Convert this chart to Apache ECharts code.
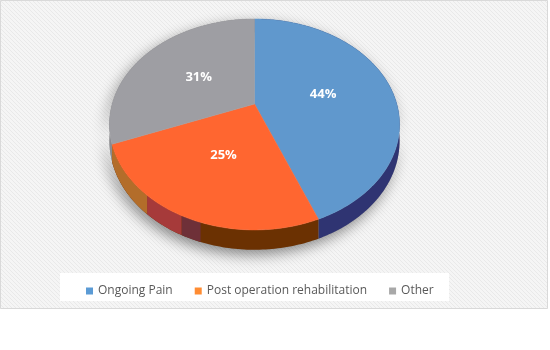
<!DOCTYPE html>
<html>
<head>
<meta charset="utf-8">
<script src="https://cdn.jsdelivr.net/npm/echarts@6/dist/echarts.min.js"></script>
<style>
  html, body { margin: 0; padding: 0; background: #ffffff; }
  #chart { width: 550px; height: 350px; }
</style>
</head>
<body>
<div id="chart"></div>
<script>
// ---- data ----
const categories = ['Ongoing Pain', 'Post operation rehabilitation', 'Other'];
const shares = [44, 25, 31];

// ---- styles ----
const topColors = ['#6098CD', '#FF6630', '#9E9EA3'];
const sideColors = ['#2F3472', '#6B3102', '#8a8a8e'];
const legendColors = ['#5B9BD5', '#FF8C33', '#A8A8A8'];
// extra tint bands on the orange wall, per slice: [fromDeg, toDeg, color]
const sideTints = { 1: [[198, 205, '#6E3038'], [205, 220, '#A63A3A'], [220, 250, '#B36D2A']] };

// ---- 3D pie projection (angles clockwise from 12 o'clock) ----
const CX = 254.5, CY = 104, RX = 142.3, RY = 101.5, K = 0.194, DEPTH = 16;
function proj(deg, r, dz) {
  const t = deg * Math.PI / 180;
  const u = r * Math.sin(t), v = r * Math.cos(t);
  const s = 1 / (1 + K * v);
  return [CX + RX * u * s, CY - RY * v * s + DEPTH * s * dz];
}
function arcPts(a0, a1, dz) {
  const n = Math.max(2, Math.ceil(Math.abs(a1 - a0)));
  const pts = [];
  for (let k = 0; k <= n; k++) pts.push(proj(a0 + (a1 - a0) * k / n, 1, dz));
  return pts;
}
function wall(a0, a1) {
  return arcPts(a0, a1, 0).concat(arcPts(a1, a0, 1));
}

const total = shares.reduce((a, b) => a + b, 0);

function renderSlice(i) {
  return function (params, api) {
    const value = api.value(0);
    let before = 0;
    for (let j = 0; j < i; j++) before += shares[j];
    const a0 = 360 * before / total;
    const a1 = a0 + 360 * value / total;
    const mid = (a0 + a1) / 2;
    const frontness = -Math.cos(mid * Math.PI / 180);
    const children = [];

    if (i === 0) {
      // soft drop shadow under the whole pie
      children.push({
        type: 'polygon',
        shape: { points: wall(0, 360) },
        style: { fill: '#9a9a9a', shadowBlur: 14, shadowOffsetX: -3, shadowOffsetY: 5, shadowColor: 'rgba(0,0,0,0.45)' },
        z2: -10, silent: true
      });
    }

    children.push({
      type: 'polygon',
      shape: { points: wall(a0, a1) },
      style: { fill: sideColors[i] },
      z2: 5 + frontness, silent: true
    });
    (sideTints[i] || []).forEach(function (b) {
      const s0 = Math.max(a0, b[0]), s1 = Math.min(a1, b[1]);
      if (s1 > s0) {
        children.push({
          type: 'polygon',
          shape: { points: wall(s0, s1) },
          style: { fill: b[2] },
          z2: 7 + frontness, silent: true
        });
      }
    });

    children.push({
      type: 'polygon',
      shape: { points: [proj(0, 0, 0)].concat(arcPts(a0, a1, 0)) },
      style: { fill: topColors[i], stroke: topColors[i], lineWidth: 0.5 },
      z2: 20, silent: true
    });

    const lp = proj(mid, 0.5, 0);
    children.push({
      type: 'text',
      x: lp[0], y: lp[1],
      style: {
        text: Math.round(100 * value / total) + '%',
        align: 'center', verticalAlign: 'middle',
        fill: '#ffffff',
        font: 'bold 13px "Open Sans", "Liberation Sans", sans-serif'
      },
      z2: 30, silent: true
    });

    return { type: 'group', children: children };
  };
}

// background texture
const pat = document.createElement('canvas');
pat.width = 4; pat.height = 4;
const pg = pat.getContext('2d');
pg.fillStyle = '#f5f5f5'; pg.fillRect(0, 0, 4, 4);
pg.fillStyle = '#e9e9e9';
for (let k = 0; k < 4; k++) pg.fillRect(k, k, 1, 1);

const chart = echarts.init(document.getElementById('chart'), null, { renderer: 'canvas' });
chart.setOption({
  animation: false,
  backgroundColor: '#ffffff',
  graphic: [
    {
      type: 'rect', z: 0, silent: true,
      shape: { x: 0.5, y: 0.5, width: 547, height: 308 },
      style: { fill: { image: pat, repeat: 'repeat' }, stroke: '#d9d9d9', lineWidth: 1 }
    },
    {
      type: 'rect', z: 1, silent: true,
      shape: { x: 60, y: 273, width: 389, height: 28 },
      style: { fill: '#ffffff' }
    }
  ],
  legend: {
    left: 81, top: 280,
    icon: 'rect', itemWidth: 7, itemHeight: 7, itemGap: 22,
    selectedMode: false,
    textStyle: { color: '#595959', fontSize: 12, fontFamily: '"Open Sans", sans-serif' },
    data: categories.map(function (c, i) { return { name: c, itemStyle: { color: legendColors[i] } }; })
  },
  series: categories.map(function (c, i) {
    return {
      type: 'custom',
      name: c,
      coordinateSystem: 'none',
      silent: true,
      itemStyle: { color: legendColors[i] },
      data: [[shares[i]]],
      renderItem: renderSlice(i)
    };
  })
});
</script>
</body>
</html>
